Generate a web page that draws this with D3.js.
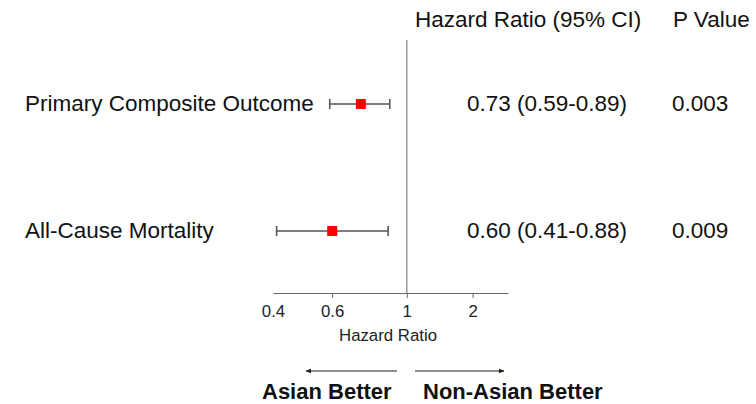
<!DOCTYPE html>
<head>
  <meta charset="utf-8">
  <script src="https://d3js.org/d3.v7.min.js"></script>
  <style>
body { margin:0; background:#fff; }
text { font-family: Arial, "Liberation Sans", sans-serif; fill:#111; }
.big { font-size: 22.5px; }
.small { font-size: 16.8px; fill:#222; }
.bold { font-size: 22px; font-weight: bold; }
.ci { stroke:#555; stroke-width:1.6; fill:none; }
.axis line, .axis path { stroke:#666; }
  </style>
</head>
<body>
<script>
const outcomes = ['Primary Composite Outcome', 'All-Cause Mortality']
const hr = [0.73, 0.60]
const lower = [0.59, 0.41]
const upper = [0.89, 0.88]
const pValues = ['0.003', '0.009']
// tick positions as drawn in the source figure, with their printed labels
const tickValues = [0.4, 0.6, 1, 1.57]
const tickLabels = ['0.4', '0.6', '1', '2']

const W = 756, H = 404

const svg = d3.select('body').append('svg')
  .attr('width', W).attr('height', H)

const x = d3.scaleLog().domain([0.4, 2]).range([273, 508])
const y = d3.scalePoint().domain(outcomes).range([104, 231])

const fmt = d3.format('.2f')

// headers
svg.append('text').attr('class', 'big')
  .attr('x', 415).attr('y', 27).text('Hazard Ratio (95% CI)')
svg.append('text').attr('class', 'big')
  .attr('x', 673).attr('y', 27).text('P Value')

// reference line at HR = 1
svg.append('line')
  .attr('x1', x(1)).attr('x2', x(1))
  .attr('y1', 40).attr('y2', 293)
  .attr('stroke', '#888').attr('stroke-width', 1.3)

// x axis
const axis = svg.append('g').attr('class', 'axis')
  .attr('transform', 'translate(0,293)')
  .call(d3.axisBottom(x).tickValues(tickValues)
    .tickFormat((d, i) => tickLabels[i]).tickSize(5).tickSizeOuter(0))
axis.select('.domain').attr('stroke', '#666')
axis.selectAll('.tick text')
  .attr('class', 'small').attr('dy', null).attr('y', 24)
axis.selectAll('.tick').filter((d, i) => i === 0).select('line').remove()

svg.append('text').attr('class', 'small')
  .attr('x', 388).attr('y', 341).attr('text-anchor', 'middle')
  .text('Hazard Ratio')

const rows = svg.selectAll('.row').data(outcomes).enter()
  .append('g').attr('class', 'row')
  .attr('transform', d => `translate(0,${y(d)})`)

rows.append('text').attr('class', 'big')
  .attr('x', 25).attr('y', 7).text(d => d)

rows.append('line').attr('class', 'ci')
  .attr('x1', (d, i) => x(lower[i])).attr('x2', (d, i) => x(upper[i]))
rows.append('line').attr('class', 'ci')
  .attr('x1', (d, i) => x(lower[i])).attr('x2', (d, i) => x(lower[i]))
  .attr('y1', -5).attr('y2', 5)
rows.append('line').attr('class', 'ci')
  .attr('x1', (d, i) => x(upper[i])).attr('x2', (d, i) => x(upper[i]))
  .attr('y1', -5).attr('y2', 5)

rows.append('rect')
  .attr('x', (d, i) => x(hr[i]) - 5).attr('y', -5)
  .attr('width', 10).attr('height', 10)
  .attr('fill', '#f00')

rows.append('text').attr('class', 'big')
  .attr('x', 467).attr('y', 7)
  .text((d, i) => `${fmt(hr[i])} (${fmt(lower[i])}-${fmt(upper[i])})`)

rows.append('text').attr('class', 'big')
  .attr('x', 672).attr('y', 7)
  .text((d, i) => pValues[i])

// direction arrows
const defs = svg.append('defs')
defs.append('marker').attr('id', 'ah')
  .attr('viewBox', '0 0 10 10').attr('refX', 9).attr('refY', 5)
  .attr('markerWidth', 6).attr('markerHeight', 6)
  .attr('markerUnits', 'userSpaceOnUse').attr('orient', 'auto')
  .append('path').attr('d', 'M0,1L10,5L0,9Z').attr('fill', '#222')

svg.append('line').attr('x1', 397).attr('x2', 306)
  .attr('y1', 371).attr('y2', 371)
  .attr('stroke', '#222').attr('stroke-width', 1.2)
  .attr('marker-end', 'url(#ah)')
svg.append('line').attr('x1', 415).attr('x2', 504)
  .attr('y1', 371).attr('y2', 371)
  .attr('stroke', '#222').attr('stroke-width', 1.2)
  .attr('marker-end', 'url(#ah)')

svg.append('text').attr('class', 'bold')
  .attr('x', 262).attr('y', 399).text('Asian Better')
svg.append('text').attr('class', 'bold')
  .attr('x', 423).attr('y', 399).text('Non-Asian Better')
</script>
</body>
